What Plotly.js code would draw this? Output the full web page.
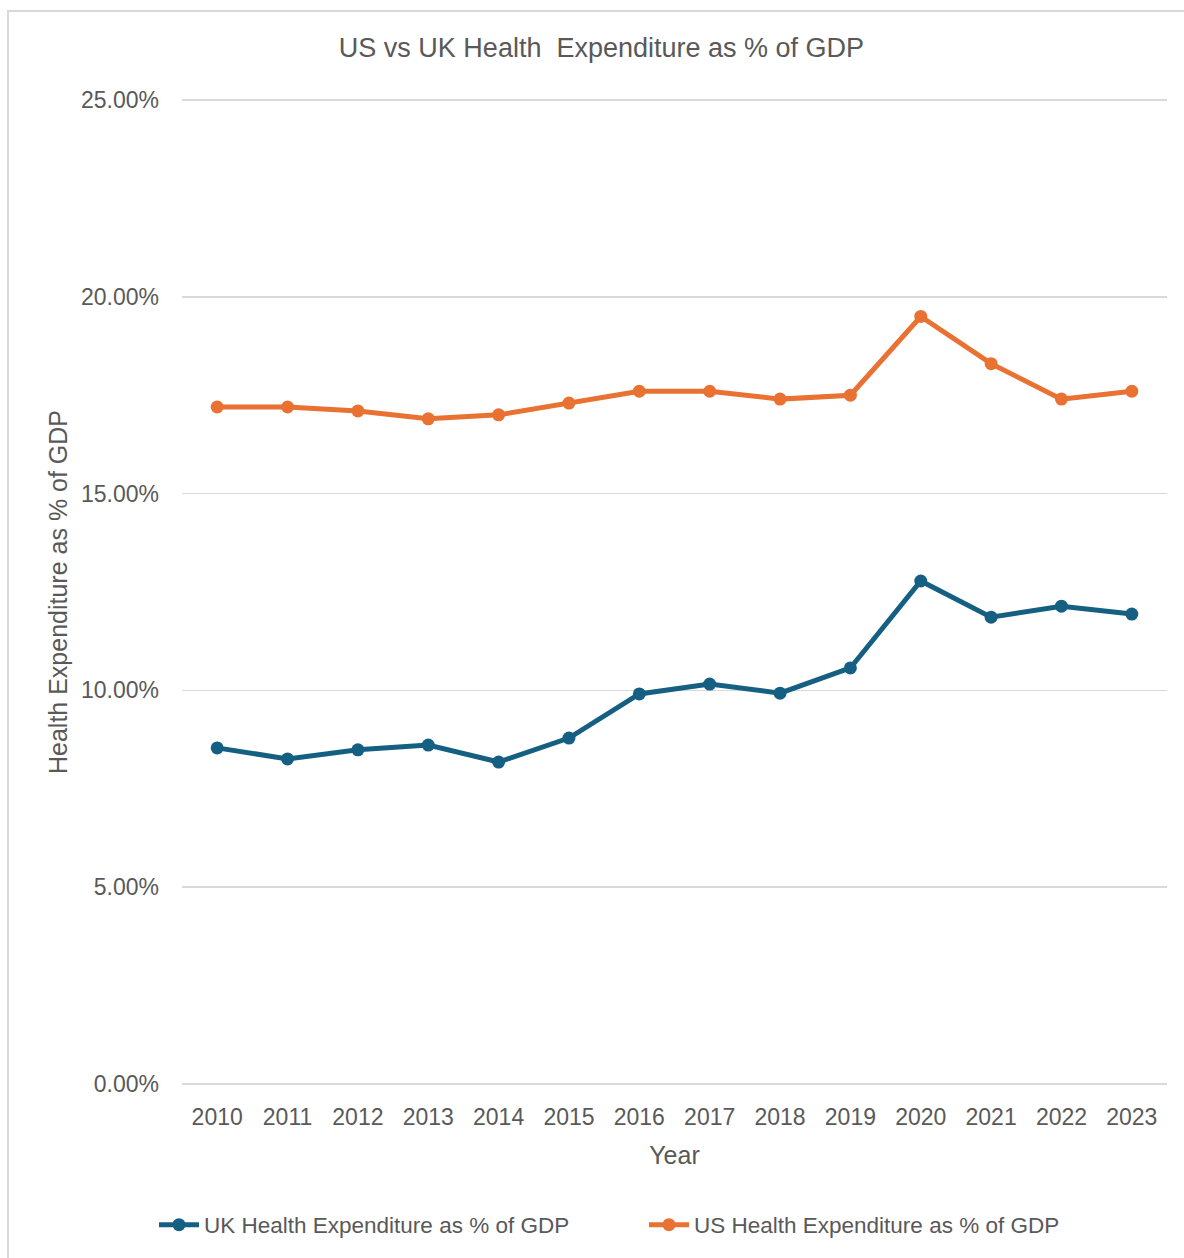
<!DOCTYPE html>
<html>
<head>
<meta charset="utf-8">
<script src="https://cdn.plot.ly/plotly-3.0.1.min.js"></script>
<style>
  html, body { margin: 0; padding: 0; background: #fff; }
  #wrap { position: relative; width: 1184px; height: 1258px; }
  #chart { width: 1184px; height: 1258px; }
  #frame { position: absolute; left: 7px; top: 10px; right: 0; bottom: 0;
           border-left: 2px solid #d9d9d9; border-top: 2px solid #d9d9d9; pointer-events: none; }
</style>
</head>
<body>
<div id="wrap">
  <div id="chart"></div>
  <div id="frame"></div>
</div>
<script>
const years = ["2010","2011","2012","2013","2014","2015","2016","2017","2018","2019","2020","2021","2022","2023"];
const ukValues = [0.0854, 0.0826, 0.0849, 0.0861, 0.0818, 0.0879, 0.0991, 0.1016, 0.0993, 0.1057, 0.1278, 0.1186, 0.1214, 0.1194];
const usValues = [0.172, 0.172, 0.171, 0.169, 0.170, 0.173, 0.176, 0.176, 0.174, 0.175, 0.195, 0.183, 0.174, 0.176];
const yTicks = [0, 0.05, 0.10, 0.15, 0.20, 0.25];

const font = "Liberation Sans, Arial, sans-serif";
const grey = "#595959";

const traces = [
  {
    x: years, y: ukValues, type: "scatter", mode: "lines+markers",
    name: "UK Health Expenditure as % of GDP",
    line: { color: "#156082", width: 5 },
    marker: { color: "#156082", size: 13 }
  },
  {
    x: years, y: usValues, type: "scatter", mode: "lines+markers",
    name: "US Health Expenditure as % of GDP",
    line: { color: "#E97132", width: 5 },
    marker: { color: "#E97132", size: 13 }
  }
];

const layout = {
  width: 1184, height: 1258,
  margin: { l: 182, r: 17, t: 98, b: 172 },
  paper_bgcolor: "#fff", plot_bgcolor: "#fff",
  font: { family: font, color: grey, size: 22 },
  title: {
    text: "US vs UK Health  Expenditure as % of GDP",
    font: { family: font, size: 27, color: grey },
    x: 0.508, xref: "container", xanchor: "center",
    y: 1 - 48 / 1258, yref: "container", yanchor: "middle"
  },
  xaxis: {
    type: "category",
    range: [-0.5, 13.5],
    showgrid: false, zeroline: false,
    showline: false,
    ticks: "", ticklen: 0,
    ticklabelstandoff: 15,
    tickfont: { family: font, size: 23, color: grey },
    title: { text: "Year", font: { family: font, size: 25, color: grey }, standoff: 17 }
  },
  yaxis: {
    range: [-0.0005, 0.2505],
    tickvals: yTicks,
    tickformat: ".2%",
    showgrid: true, gridcolor: "#d9d9d9", gridwidth: 1.5,
    zeroline: false, showline: false,
    ticks: "", ticklen: 0,
    ticklabelstandoff: 22,
    tickfont: { family: font, size: 23, color: grey },
    title: { text: "Health Expenditure as % of GDP", font: { family: font, size: 25, color: grey }, standoff: 6 }
  },
  showlegend: true,
  legend: {
    orientation: "h",
    xref: "paper", yref: "paper",
    x: -28 / 985, xanchor: "left",
    y: -(1225 - 1086) / 988, yanchor: "middle",
    font: { family: font, size: 22.5, color: grey },
    entrywidth: 435,
    itemwidth: 40
  }
};

Plotly.newPlot("chart", traces, layout, { displayModeBar: false, staticPlot: true });
</script>
</body>
</html>
